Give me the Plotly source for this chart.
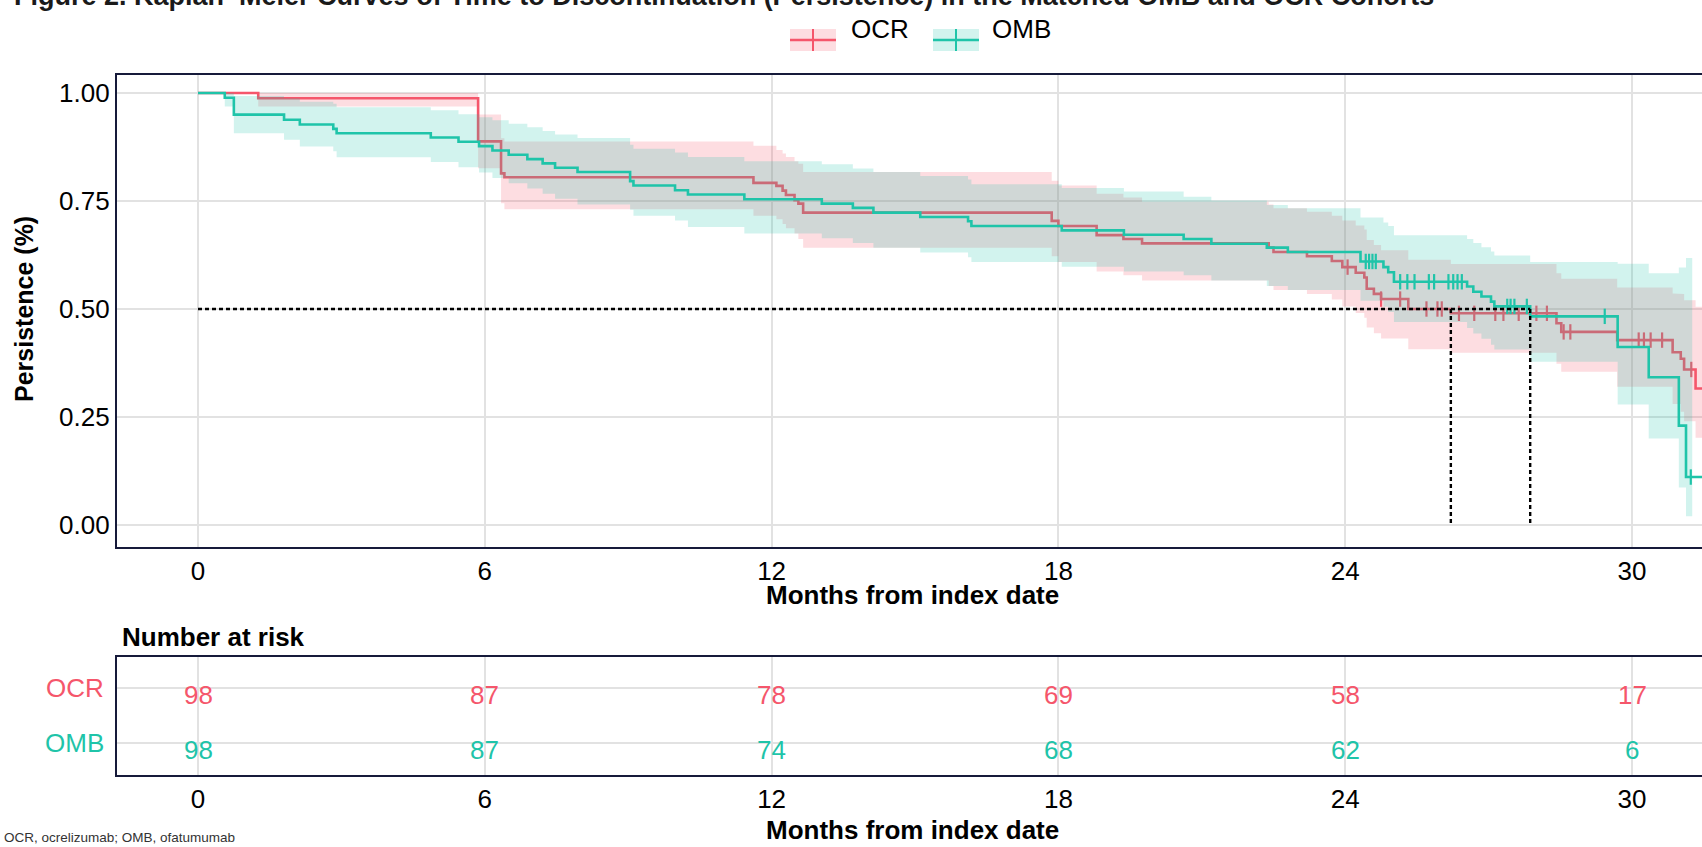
import plotly.graph_objects as go

W, H = 1702, 847

# ---------------- data ----------------
ocr_time = [0, 1.26, 5.86, 6.34, 6.41, 11.62, 12.10, 12.23, 12.30, 12.48, 12.56, 12.66,
            17.86, 18.00, 18.80, 19.36, 19.75, 22.40, 22.50, 23.20, 23.72, 23.94, 24.22,
            24.40, 24.45, 24.60, 24.75, 25.32, 26.21, 28.42, 28.52, 29.69, 30.85, 31.02,
            31.09, 31.33]
ocr_surv = [1.0, 0.988, 0.888, 0.814, 0.805, 0.792, 0.785, 0.774, 0.764, 0.752, 0.744, 0.723,
            0.704, 0.692, 0.671, 0.662, 0.652, 0.642, 0.632, 0.622, 0.611, 0.597, 0.584,
            0.573, 0.547, 0.535, 0.523, 0.500, 0.490, 0.467, 0.447, 0.428, 0.400, 0.385,
            0.360, 0.316]
ocr_lower = [1.0, 0.969, 0.826, 0.745, 0.731, 0.716, 0.708, 0.697, 0.687, 0.675, 0.662, 0.642,
             0.622, 0.609, 0.587, 0.578, 0.566, 0.553, 0.544, 0.535, 0.522, 0.506, 0.491,
             0.480, 0.457, 0.444, 0.432, 0.407, 0.399, 0.373, 0.355, 0.320, 0.280, 0.262,
             0.240, 0.202]
ocr_upper = [1.0, 1.0, 0.950, 0.895, 0.888, 0.878, 0.868, 0.860, 0.852, 0.842, 0.836, 0.817,
             0.797, 0.786, 0.767, 0.758, 0.748, 0.742, 0.733, 0.725, 0.716, 0.705, 0.693,
             0.684, 0.660, 0.648, 0.636, 0.614, 0.604, 0.583, 0.570, 0.550, 0.536, 0.535,
             0.520, 0.505]
ocr_censor = [24.05, 24.75, 25.15, 25.70, 25.93, 26.02, 26.38, 26.70, 27.14, 27.31, 27.63,
              28.00, 28.22, 28.57, 28.71, 30.14, 30.25, 30.39, 30.63, 31.24]

omb_time = [0, 0.56, 0.75, 1.80, 2.13, 2.83, 2.90, 4.87, 5.45, 5.88, 6.16, 6.50, 6.89, 7.21,
            7.47, 7.94, 9.04, 9.11, 9.98, 10.25, 11.43, 13.05, 13.70, 14.13, 15.11, 16.11,
            16.18, 18.07, 19.37, 20.62, 21.20, 22.36, 22.80, 24.32, 24.80, 24.90, 25.02,
            26.55, 26.68, 26.85, 27.05, 27.12, 27.87, 29.70, 30.35, 30.98, 31.13]
omb_surv = [1.0, 0.989, 0.950, 0.938, 0.927, 0.917, 0.907, 0.897, 0.887, 0.877, 0.867, 0.857,
            0.847, 0.837, 0.827, 0.817, 0.796, 0.786, 0.775, 0.765, 0.754, 0.744, 0.734,
            0.723, 0.713, 0.703, 0.692, 0.682, 0.672, 0.662, 0.651, 0.642, 0.632, 0.610,
            0.597, 0.585, 0.563, 0.552, 0.540, 0.529, 0.517, 0.506, 0.483, 0.412, 0.342,
            0.230, 0.111]
omb_lower = [1.0, 0.969, 0.907, 0.892, 0.876, 0.865, 0.851, 0.840, 0.828, 0.816, 0.803, 0.791,
             0.779, 0.767, 0.755, 0.742, 0.730, 0.716, 0.705, 0.690, 0.675, 0.664, 0.653,
             0.642, 0.631, 0.620, 0.609, 0.598, 0.587, 0.578, 0.566, 0.553, 0.544, 0.519,
             0.505, 0.493, 0.470, 0.456, 0.443, 0.431, 0.417, 0.406, 0.378, 0.279, 0.200,
             0.087, 0.020]
omb_upper = [1.0, 1.0, 0.993, 0.988, 0.980, 0.975, 0.967, 0.960, 0.951, 0.944, 0.937, 0.929,
             0.921, 0.912, 0.904, 0.896, 0.880, 0.871, 0.862, 0.852, 0.842, 0.835, 0.825,
             0.817, 0.808, 0.800, 0.789, 0.780, 0.772, 0.760, 0.751, 0.741, 0.733, 0.712,
             0.700, 0.692, 0.671, 0.662, 0.653, 0.643, 0.633, 0.624, 0.609, 0.605, 0.583,
             0.596, 0.618]
omb_censor = [24.43, 24.50, 24.57, 24.64, 25.15, 25.30, 25.45, 25.75, 25.86, 26.16, 26.26,
              26.35, 26.44, 27.39, 27.46, 27.54, 27.80, 29.43, 31.23]

ocr_end, ocr_band_end = 31.9, 31.9
omb_end, omb_band_end = 31.9, 31.26

median_ocr, median_omb = 26.21, 27.87

risk_times = [0, 6, 12, 18, 24, 30]
risk_ocr = [98, 87, 78, 69, 58, 17]
risk_omb = [98, 87, 74, 68, 62, 6]

x_ticks = [0, 6, 12, 18, 24, 30]
y_ticks = [0, 0.25, 0.5, 0.75, 1.0]
y_ticktext = ["0.00", "0.25", "0.50", "0.75", "1.00"]

# ---------------- style ----------------
C_OCR = "#F5566B"
C_OMB = "#1FC4A9"
F_OCR = "rgba(245,86,107,0.2)"
F_OMB = "rgba(31,196,169,0.2)"
FRAME = "#161A3A"
GRID = "#E2E2E2"
FONT = "Liberation Sans, Arial, sans-serif"


def px(x):
    return x / W


def py(y):
    return 1 - y / H


def step_band(times, lo, hi, end):
    xu, yu, xl, yl = [], [], [], []
    for i, t in enumerate(times):
        tn = times[i + 1] if i + 1 < len(times) else end
        xu += [t, tn]
        yu += [hi[i], hi[i]]
        xl += [t, tn]
        yl += [lo[i], lo[i]]
    return xu + xl[::-1], yu + yl[::-1]


def surv_at(times, surv, t):
    v = surv[0]
    for ti, si in zip(times, surv):
        if ti <= t:
            v = si
    return v


fig = go.Figure()


def add_group(times, surv, lo, hi, cens, end, band_end, col, fill):
    bx, by = step_band(times, lo, hi, band_end)
    fig.add_trace(go.Scatter(x=bx, y=by, fill="toself", fillcolor=fill, mode="lines",
                             line=dict(width=0), hoverinfo="skip", showlegend=False,
                             xaxis="x", yaxis="y"))
    fig.add_trace(go.Scatter(x=times + [end], y=surv + [surv[-1]], mode="lines",
                             line=dict(color=col, width=2.6, shape="hv"),
                             showlegend=False, xaxis="x", yaxis="y"))
    fig.add_trace(go.Scatter(x=cens, y=[surv_at(times, surv, c) for c in cens], mode="markers",
                             marker=dict(symbol="line-ns", size=11,
                                         line=dict(color=col, width=2.2)),
                             showlegend=False, xaxis="x", yaxis="y"))


add_group(ocr_time, ocr_surv, ocr_lower, ocr_upper, ocr_censor, ocr_end, ocr_band_end, C_OCR, F_OCR)
add_group(omb_time, omb_surv, omb_lower, omb_upper, omb_censor, omb_end, omb_band_end, C_OMB, F_OMB)

# median lines
dot = dict(color="black", width=2.4, dash="4px,3px")
fig.add_trace(go.Scatter(x=[0, max(median_ocr, median_omb)], y=[0.5, 0.5], mode="lines",
                         line=dot, showlegend=False, xaxis="x", yaxis="y"))
for m in (median_ocr, median_omb):
    fig.add_trace(go.Scatter(x=[m, m], y=[0.5, 0], mode="lines", line=dot,
                             showlegend=False, xaxis="x", yaxis="y"))

# dummy trace for risk table axes
fig.add_trace(go.Scatter(x=[risk_times[0]], y=[1], mode="markers", marker=dict(opacity=0),
                         showlegend=False, hoverinfo="skip", xaxis="x2", yaxis="y2"))

annotations = []


def ann(**kw):
    kw.setdefault("showarrow", False)
    kw.setdefault("xanchor", "center")
    kw.setdefault("yanchor", "middle")
    annotations.append(kw)


for t, n in zip(risk_times, risk_ocr):
    ann(x=t, y=2, xref="x2", yref="y2", text=str(n), yshift=-7,
        font=dict(size=26, color=C_OCR))
for t, n in zip(risk_times, risk_omb):
    ann(x=t, y=1, xref="x2", yref="y2", text=str(n), yshift=-7,
        font=dict(size=26, color=C_OMB))
ann(x=px(106), y=2, xref="paper", yref="y2", xanchor="right", text="OCR",
    font=dict(size=26, color=C_OCR))
ann(x=px(106), y=1, xref="paper", yref="y2", xanchor="right", text="OMB",
    font=dict(size=26, color=C_OMB))

# titles
ann(x=px(12), y=py(-4), xref="paper", yref="paper", xanchor="left",
    text="<b>Figure 2. Kaplan\u2013Meier Curves of Time to Discontinuation (Persistence) in the Matched OMB and OCR Cohorts</b>",
    font=dict(size=27, color="#1a1a1a"))
ann(x=px(24), y=py(309), xref="paper", yref="paper", textangle=-90,
    text="<b>Persistence (%)</b>", font=dict(size=25, color="black"))
ann(x=px(912), y=py(595), xref="paper", yref="paper",
    text="<b>Months from index date</b>", font=dict(size=26, color="black"))
ann(x=px(912), y=py(830), xref="paper", yref="paper",
    text="<b>Months from index date</b>", font=dict(size=26, color="black"))
ann(x=px(120), y=py(637), xref="paper", yref="paper", xanchor="left",
    text="<b>Number at risk</b>", font=dict(size=26, color="black"))
ann(x=px(2), y=py(837), xref="paper", yref="paper", xanchor="left",
    text="OCR, ocrelizumab; OMB, ofatumumab", font=dict(size=13.5, color="#333333"))
# legend text
ann(x=px(849), y=py(29), xref="paper", yref="paper", xanchor="left",
    text="OCR", font=dict(size=26, color="black"))
ann(x=px(990), y=py(29), xref="paper", yref="paper", xanchor="left",
    text="OMB", font=dict(size=26, color="black"))

shapes = []
for (x0, x1, col, fill) in [(790, 836, C_OCR, F_OCR), (933, 979, C_OMB, F_OMB)]:
    shapes.append(dict(type="rect", xref="paper", yref="paper", x0=px(x0), x1=px(x1),
                       y0=py(51), y1=py(29), fillcolor=fill, line=dict(width=0)))
    shapes.append(dict(type="line", xref="paper", yref="paper", x0=px(x0), x1=px(x1),
                       y0=py(40), y1=py(40), line=dict(color=col, width=2.6)))
    xm = (x0 + x1) / 2
    shapes.append(dict(type="line", xref="paper", yref="paper", x0=px(xm), x1=px(xm),
                       y0=py(51), y1=py(29), line=dict(color=col, width=2)))

x_range = [(117 - 198) / 47.8, (1702 - 198) / 47.8]
axis_common = dict(showgrid=True, gridcolor=GRID, gridwidth=1.6, zeroline=False,
                   showline=True, linecolor=FRAME, linewidth=2.4, ticks="",
                   tickfont=dict(size=26, color="black"))

fig.update_layout(
    width=W, height=H,
    margin=dict(l=0, r=0, t=0, b=0),
    paper_bgcolor="white", plot_bgcolor="white",
    font=dict(family=FONT, color="black"),
    showlegend=False,
    xaxis=dict(domain=[px(117), 1], range=x_range, tickvals=x_ticks, anchor="y",
               mirror=True, **axis_common),
    yaxis=dict(domain=[py(546.5), py(74.5)], range=[(525 - 546.5) / 432, (525 - 74.5) / 432],
               tickvals=y_ticks, ticktext=y_ticktext, anchor="x", mirror=False, **axis_common),
    xaxis2=dict(domain=[px(117), 1], range=x_range, tickvals=x_ticks, anchor="y2",
                mirror=True, **axis_common),
    yaxis2=dict(domain=[py(775), py(657)], range=[1 - 32 / 55, 2 + 31 / 55], tickvals=[1, 2],
                showticklabels=False, anchor="x2", mirror=False,
                **{k: v for k, v in axis_common.items() if k != "tickfont"}),
    annotations=annotations,
    shapes=shapes,
)

fig.write_html("out.html")
